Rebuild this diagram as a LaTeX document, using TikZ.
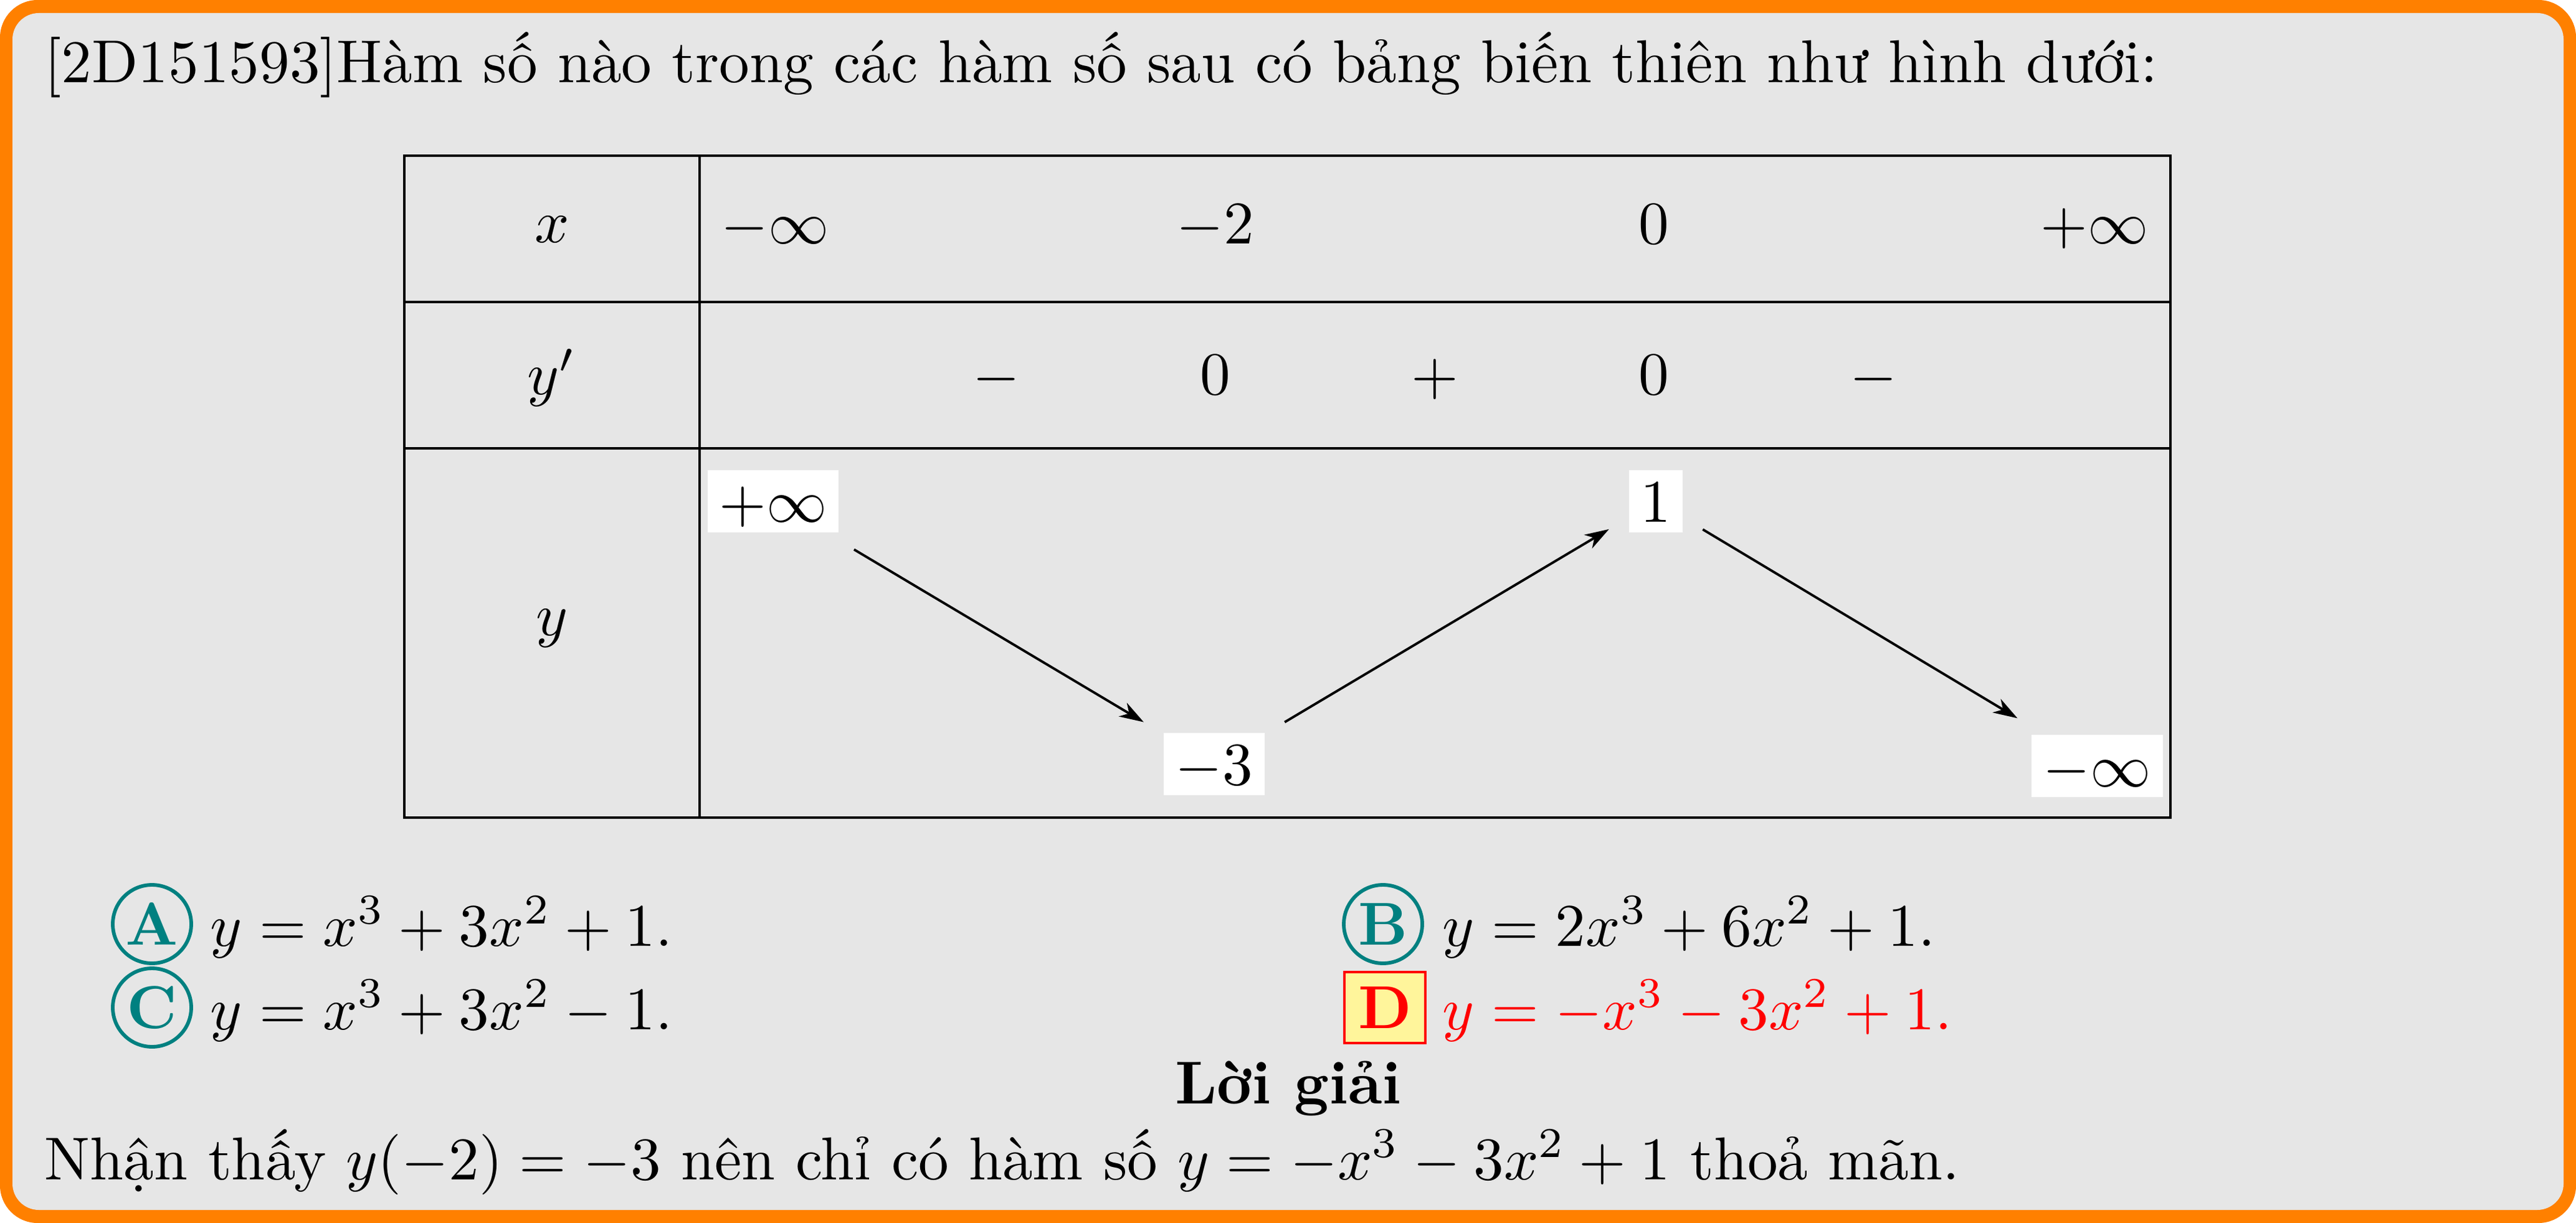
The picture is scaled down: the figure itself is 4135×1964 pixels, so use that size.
\documentclass[tikz,border=0pt]{standalone}
\usepackage{fontspec}
\usetikzlibrary{arrows.meta}
\definecolor{frameorange}{RGB}{255,128,0}
\definecolor{boxgray}{RGB}{230,230,230}
\definecolor{ansteal}{RGB}{0,128,128}
\definecolor{ansred}{RGB}{255,0,0}
\definecolor{ansyellow}{RGB}{255,245,155}
\begin{document}
\begin{tikzpicture}[x=0.1028pt,y=-0.1028pt,
  txt/.style={inner sep=0pt, anchor=base west},
  val/.style={inner sep=0pt, anchor=base},
  tline/.style={line width=0.35pt},
  vbox/.style={fill=white, inner xsep=1.95pt, inner ysep=1.75pt, text height=6.8pt, text depth=0pt},
  arr/.style={line width=0.4pt, -{Stealth[length=4pt,width=2.6pt,inset=1.2pt]}},
  circ/.style={circle, draw=ansteal, line width=0.6pt, minimum size=12.95pt, inner sep=0pt, text=ansteal, font=\bfseries},
  dbox/.style={draw=ansred, fill=ansyellow, line width=0.4pt, minimum width=13.4pt, minimum height=11.65pt, inner sep=0pt, text=ansred, font=\bfseries}]
\useasboundingbox (0,0) rectangle (4135,1964);
% frame
\fill[frameorange, rounded corners=6.2pt] (0,0) rectangle (4135,1964);
\fill[boxgray, rounded corners=4.35pt] (20,21) rectangle (4115,1943);
% title
\node[txt] (title) at (70,133) {[2D151593]Hàm số nào trong các hàm số sau có bảng biến thiên như hình dưới:};
% table
\draw[tline] (649,250) rectangle (3484,1313);
\draw[tline] (649,485) -- (3484,485);
\draw[tline] (649,720) -- (3484,720);
\draw[tline] (1123,250) -- (1123,1313);
% row x
\node[val] (xlab) at (886,390) {$x$};
\node[val] (x1) at (1244,392) {$-\infty$};
\node[val] (x2) at (1951,392) {$-2$};
\node[val] (x3) at (2655,392) {$0$};
\node[val] (x4) at (3362,392) {$+\infty$};
% row y'
\node[val] (dlab) at (886,634) {$y'$};
\node[val] (s1) at (1599,634) {$-$};
\node[val] (z1) at (1951,634) {$0$};
\node[val] (s2) at (2303,634) {$+$};
\node[val] (z2) at (2655,634) {$0$};
\node[val] (s3) at (3007,634) {$-$};
% row y
\node[val] (ylab) at (886,1021) {$y$};
\node[vbox] (v1) at (1241,805) {$+\infty$};
\node[vbox] (v2) at (1949,1227) {$-3$};
\node[vbox] (v3) at (2658,805) {$1$};
\node[vbox] (v4) at (3366,1230) {$-\infty$};
\draw[arr, shorten <=5.1pt, shorten >=3.6pt] (v1) -- (v2);
\draw[arr, shorten <=3.6pt, shorten >=3.6pt] (v2) -- (v3);
\draw[arr, shorten <=3.6pt, shorten >=4.9pt] (v3) -- (v4);
% answers
\node[circ] (ca) at (244,1484) {A};
\node[txt] (ta) at (336,1519) {$y=x^3+3x^2+1.$};
\node[circ] (cb) at (2220,1484) {B};
\node[txt] (tb) at (2314,1519) {$y=2x^3+6x^2+1.$};
\node[circ] (cc) at (244,1618) {C};
\node[txt] (tc) at (336,1653) {$y=x^3+3x^2-1.$};
\node[dbox] (cd) at (2223,1618) {D};
\node[txt, text=ansred] (td) at (2314,1653) {$y=-x^3-3x^2+1.$};
% solution
\node[val, font=\bfseries] (sol) at (2068,1772) {Lời giải};
\node[txt] (soltext) at (70,1894) {Nhận thấy $y(-2)=-3$ nên chỉ có hàm số $y=-x^3-3x^2+1$ thoả mãn.};
\end{tikzpicture}
\end{document}
